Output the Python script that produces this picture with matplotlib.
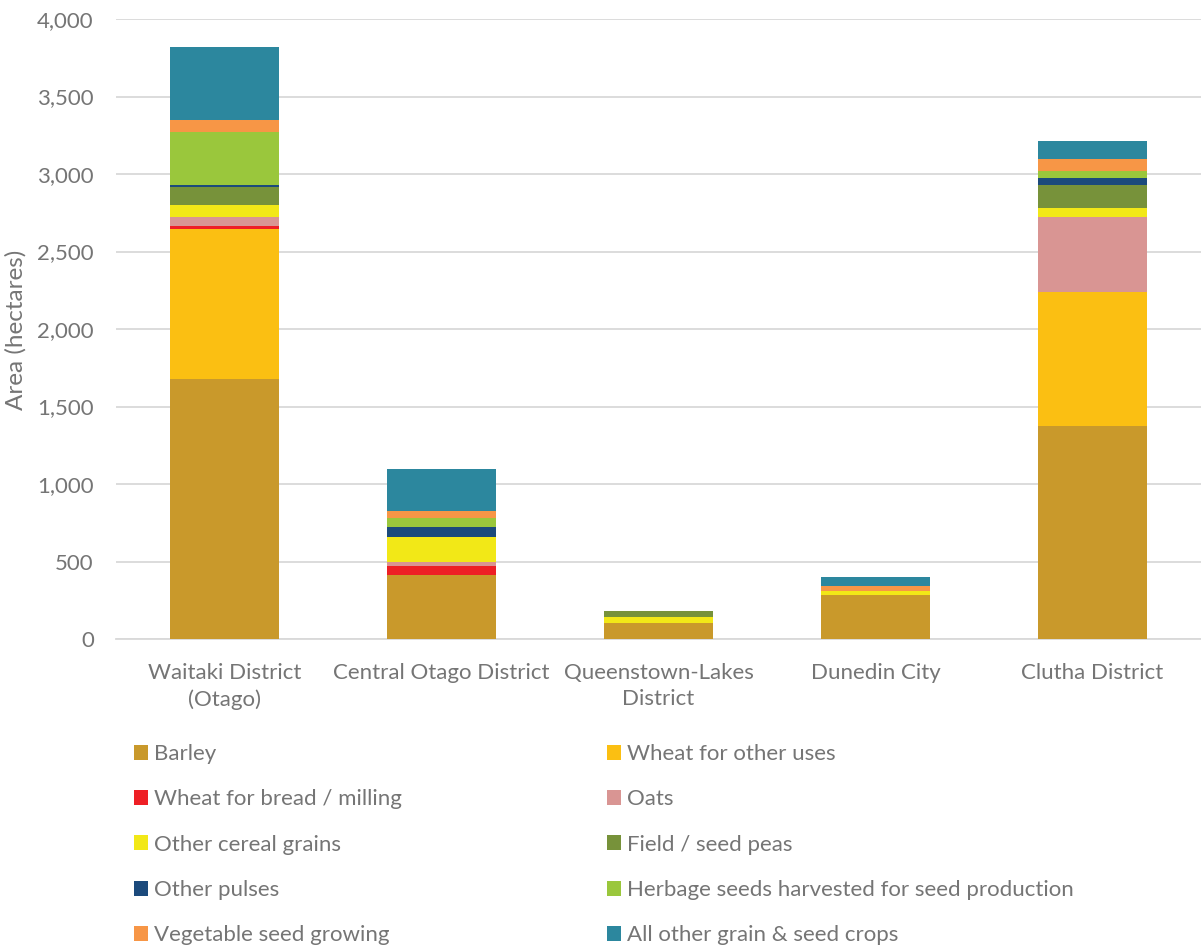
import matplotlib
matplotlib.use("Agg")
import matplotlib.pyplot as plt
import numpy as np
from matplotlib.patches import Patch

categories = ["Waitaki District\n(Otago)", "Central Otago District",
              "Queenstown-Lakes\nDistrict", "Dunedin City", "Clutha District"]

series_names = ["Barley", "Wheat for other uses", "Wheat for bread / milling", "Oats",
                "Other cereal grains", "Field / seed peas", "Other pulses",
                "Herbage seeds harvested for seed production", "Vegetable seed growing",
                "All other grain & seed crops"]

barley        = [1675, 413, 105, 284, 1374]
wheat_other   = [970, 0, 0, 0, 865]
wheat_bread   = [20, 58, 0, 0, 0]
oats          = [55, 26, 0, 0, 484]
other_cereal  = [80, 159, 37, 26, 56]
peas          = [118, 0, 39, 0, 148]
pulses        = [10, 67, 0, 0, 47]
herbage       = [345, 60, 0, 0, 45]
veg_seed      = [73, 45, 0, 32, 76]
other_crops   = [473, 267, 0, 56, 120]

series = [barley, wheat_other, wheat_bread, oats, other_cereal, peas, pulses,
          herbage, veg_seed, other_crops]
colors = ["#C9992B", "#FBBF12", "#EE1F25", "#D99593", "#F2E817", "#77923A",
          "#1B4A7C", "#9AC73C", "#F79646", "#2C879E"]

FONT = "Lato"
GREY = "#757575"
plt.rcParams["font.family"] = [FONT, "DejaVu Sans"]

fig = plt.figure(figsize=(12.01, 9.46), dpi=100)
ax = fig.add_axes([116/1201, 1 - 639/946, 1085/1201, 620/946])

x = np.arange(len(categories))
bottom = np.zeros(len(categories))
handles = []
for name, vals, c in zip(series_names, series, colors):
    vals = np.array(vals, dtype=float)
    ax.bar(x, vals, width=0.5, bottom=bottom, color=c, zorder=3)
    bottom += vals
    handles.append(Patch(facecolor=c, label=name))

ax.set_xlim(-0.5, len(categories) - 0.5)
ax.set_ylim(0, 4000)
ax.set_yticks(np.arange(0, 4001, 500))
ax.yaxis.set_major_formatter(matplotlib.ticker.FuncFormatter(lambda v, p: f"{int(v):,}"))
ax.grid(axis="y", color="#D9D9D9", linewidth=1.3, zorder=0)
for s in ["top", "right", "left"]:
    ax.spines[s].set_visible(False)
ax.spines["bottom"].set_color("#D9D9D9")
ax.spines["bottom"].set_linewidth(1.3)
ax.tick_params(axis="both", length=0, colors=GREY)
ax.tick_params(axis="y", pad=16, labelsize=16)
ax.tick_params(axis="x", pad=17.5, labelsize=16)
ax.set_xticks(x)
ax.set_xticklabels(categories, linespacing=1.36)

fig.text(16/1201, 1 - 330/946, "Area (hectares)", rotation=90, ha="center", va="center",
         color=GREY, fontsize=17.5)

# legend: row-wise ordering with 2 columns
order = [0, 2, 4, 6, 8, 1, 3, 5, 7, 9]
leg = fig.legend([handles[i] for i in order], [series_names[i] for i in order],
                 ncol=2, loc="upper left", bbox_to_anchor=(134/1201, 1 - 744/946),
                 frameon=False, fontsize=16, handlelength=0.65, handleheight=0.65,
                 handletextpad=0.27, labelspacing=1.14, columnspacing=9.2,
                 borderaxespad=0, borderpad=0)
for t in leg.get_texts():
    t.set_color(GREY)

fig.savefig("out.png", dpi=100)
